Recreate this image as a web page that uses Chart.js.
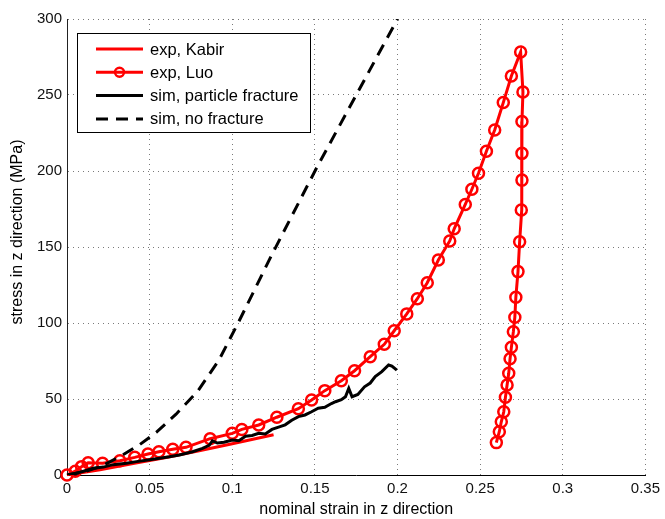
<!DOCTYPE html>
<html>
<head>
<meta charset="utf-8">
<script src="https://cdn.jsdelivr.net/npm/chart.js@4"></script>
<style>
  html, body { margin: 0; padding: 0; background: #fff; }
  #wrap { width: 665px; height: 519px; }
</style>
</head>
<body>
<div id="wrap"><canvas id="c" width="665" height="519"></canvas></div>
<script>
// ===== data =====
const xTicks = [0, 0.05, 0.1, 0.15, 0.2, 0.25, 0.3, 0.35]
const yTicks = [0, 50, 100, 150, 200, 250, 300]

const kabirStrain = [0, 0.02, 0.04, 0.06, 0.08, 0.1, 0.125]
const kabirStress = [0, 3.5, 7.5, 11.5, 16, 20.5, 26.5]

const luoStrain = [0, 0.005, 0.0088, 0.0128, 0.0215, 0.032, 0.041, 0.049, 0.0556, 0.064, 0.072,
  0.0866, 0.1, 0.1058, 0.116, 0.127, 0.14, 0.148, 0.156, 0.166, 0.174, 0.1835, 0.192, 0.198,
  0.2056, 0.212, 0.218, 0.2247, 0.2316, 0.2343, 0.241, 0.245, 0.249, 0.2538, 0.2588, 0.264,
  0.2689, 0.2745, 0.2759, 0.2753, 0.2753, 0.2753, 0.2749, 0.2739, 0.2729, 0.2716, 0.271,
  0.2701, 0.2689, 0.2681, 0.2673, 0.2663, 0.2653, 0.2643, 0.2628, 0.2616, 0.2598]
const luoStress = [0, 2.5, 5.5, 8, 7.7, 9.4, 11.6, 13.8, 15.3, 16.9, 18.2,
  23.9, 27.4, 30, 32.9, 38, 43.6, 49.3, 55.5, 62, 68.6, 77.8, 86, 94.9,
  106, 116, 126.5, 141.4, 154, 162, 178, 188, 198.5, 213, 227, 245,
  262.5, 278.3, 252, 232.5, 211.6, 194, 174.4, 153.5, 133.8, 116.9, 103.8,
  94.3, 84, 76.5, 66.9, 59.2, 51.1, 41.6, 35, 28.5, 21.3]

const fracStrain = [0, 0.005, 0.01, 0.016, 0.022, 0.028, 0.036, 0.042, 0.05, 0.056, 0.062, 0.068,
  0.076, 0.082, 0.086, 0.088, 0.091, 0.095, 0.1, 0.104, 0.108, 0.112, 0.116, 0.12, 0.124, 0.128,
  0.132, 0.136, 0.14, 0.144, 0.148, 0.152, 0.156, 0.16, 0.1625, 0.166, 0.1685, 0.1705, 0.1725,
  0.176, 0.18, 0.1835, 0.1865, 0.1905, 0.1946, 0.1966, 0.1996]
const fracStress = [0, 1, 2.5, 4.4, 5.2, 6.8, 7.7, 8.8, 10, 11, 12, 13.2,
  15.3, 17.5, 19.5, 22.5, 21, 21.5, 23, 22.5, 25.5, 26, 27.4, 27, 30, 31.5,
  33, 36, 38.4, 39.5, 41.6, 43.9, 44.5, 47, 48.2, 49.5, 51.5, 57, 51.5,
  53, 58, 60.5, 64.7, 68, 72.4, 71.7, 69]

const noFracStrain = [0, 0.01, 0.02, 0.032, 0.044, 0.054, 0.066, 0.079, 0.092, 0.104, 0.124, 0.151, 0.1745, 0.2]
const noFracStress = [0, 2, 5.5, 12, 20, 28, 40, 55, 75.7, 101, 145, 202, 249, 300]

const seriesLabels = ['exp, Kabir', 'exp, Luo', 'sim, particle fracture', 'sim, no fracture']
const xTitle = 'nominal strain in z direction'
const yTitle = 'stress in z direction (MPa)'

const pts = (xs, ys) => xs.map((x, i) => ({ x: x, y: ys[i] }))

const FONT = '"Liberation Sans", Arial, Helvetica, sans-serif'

// legend with a box, drawn inside the plot (top left) + the y axis title
const boxLegend = {
  id: 'boxLegend',
  afterDraw(chart) {
    const ctx = chart.ctx
    const a = chart.chartArea
    const bx = a.left + 10, by = a.top + 14, bw = 233, bh = 99
    ctx.save()
    ctx.fillStyle = '#fff'
    ctx.fillRect(bx, by, bw, bh)
    ctx.strokeStyle = '#000'
    ctx.lineWidth = 1
    ctx.strokeRect(bx + 0.5, by + 0.5, bw, bh)
    ctx.font = '16.5px ' + FONT
    ctx.textBaseline = 'middle'
    chart.data.datasets.forEach((ds, i) => {
      const y = by + 16 + i * 23.3
      ctx.strokeStyle = ds.borderColor
      ctx.lineWidth = ds.borderWidth
      ctx.setLineDash(ds.borderDash || [])
      ctx.beginPath()
      ctx.moveTo(bx + 19, y)
      ctx.lineTo(bx + 66, y)
      ctx.stroke()
      ctx.setLineDash([])
      if (ds.pointRadius > 0) {
        ctx.lineWidth = ds.pointBorderWidth
        ctx.beginPath()
        ctx.arc(bx + 42.5, y, ds.pointRadius - 1, 0, Math.PI * 2)
        ctx.stroke()
      }
      ctx.fillStyle = '#000'
      ctx.fillText(ds.label, bx + 73, y + 1)
    })

    // y title
    ctx.translate(18, 232)
    ctx.rotate(-Math.PI / 2)
    ctx.font = '16px ' + FONT
    ctx.textAlign = 'center'
    ctx.fillText(yTitle, 0, 0)
    ctx.restore()
  }
}

const gridStyle = {
  color: '#7a7a7a',
  lineWidth: 1,
  drawTicks: false
}

new Chart(document.getElementById('c'), {
  type: 'line',
  data: {
    datasets: [
      {
        label: seriesLabels[0], data: pts(kabirStrain, kabirStress),
        borderColor: '#ff0000', borderWidth: 3, pointRadius: 0, order: 4
      },
      {
        label: seriesLabels[1], data: pts(luoStrain, luoStress),
        borderColor: '#ff0000', borderWidth: 3, pointRadius: 5.5,
        pointBorderWidth: 2.5, pointBorderColor: '#ff0000',
        pointBackgroundColor: 'rgba(0,0,0,0)', order: 3, clip: false
      },
      {
        label: seriesLabels[2], data: pts(fracStrain, fracStress),
        borderColor: '#000', borderWidth: 3, pointRadius: 0, order: 2
      },
      {
        label: seriesLabels[3], data: pts(noFracStrain, noFracStress),
        borderColor: '#000', borderWidth: 3, borderDash: [12, 8], pointRadius: 0, order: 1
      }
    ]
  },
  options: {
    responsive: false,
    animation: false,
    layout: { padding: { left: 0, right: 19, top: 19, bottom: 0 } },
    plugins: { legend: { display: false }, tooltip: { enabled: false } },
    elements: { line: { tension: 0, fill: false } },
    scales: {
      x: {
        type: 'linear', min: 0, max: 0.35,
        afterBuildTicks: s => { s.ticks = xTicks.map(v => ({ value: v })) },
        afterFit: s => { s.height = 44 },
        grid: gridStyle,
        border: { display: true, color: '#000', width: 1, dash: [1, 4] },
        ticks: {
          color: '#111', font: { family: FONT, size: 15 }, padding: 5, maxRotation: 0,
          callback: v => String(+v.toFixed(2))
        },
        title: {
          display: true, text: xTitle, color: '#000',
          font: { family: FONT, size: 16 }, padding: { top: 0, bottom: 0 }
        }
      },
      y: {
        type: 'linear', min: 0, max: 300,
        afterBuildTicks: s => { s.ticks = yTicks.map(v => ({ value: v })) },
        afterFit: s => { s.width = 67 },
        grid: gridStyle,
        border: { display: true, color: '#222', width: 1, dash: [1, 4] },
        ticks: { color: '#111', font: { family: FONT, size: 15 }, padding: 5 }
      }
    }
  },
  plugins: [boxLegend]
})
</script>
</body>
</html>
